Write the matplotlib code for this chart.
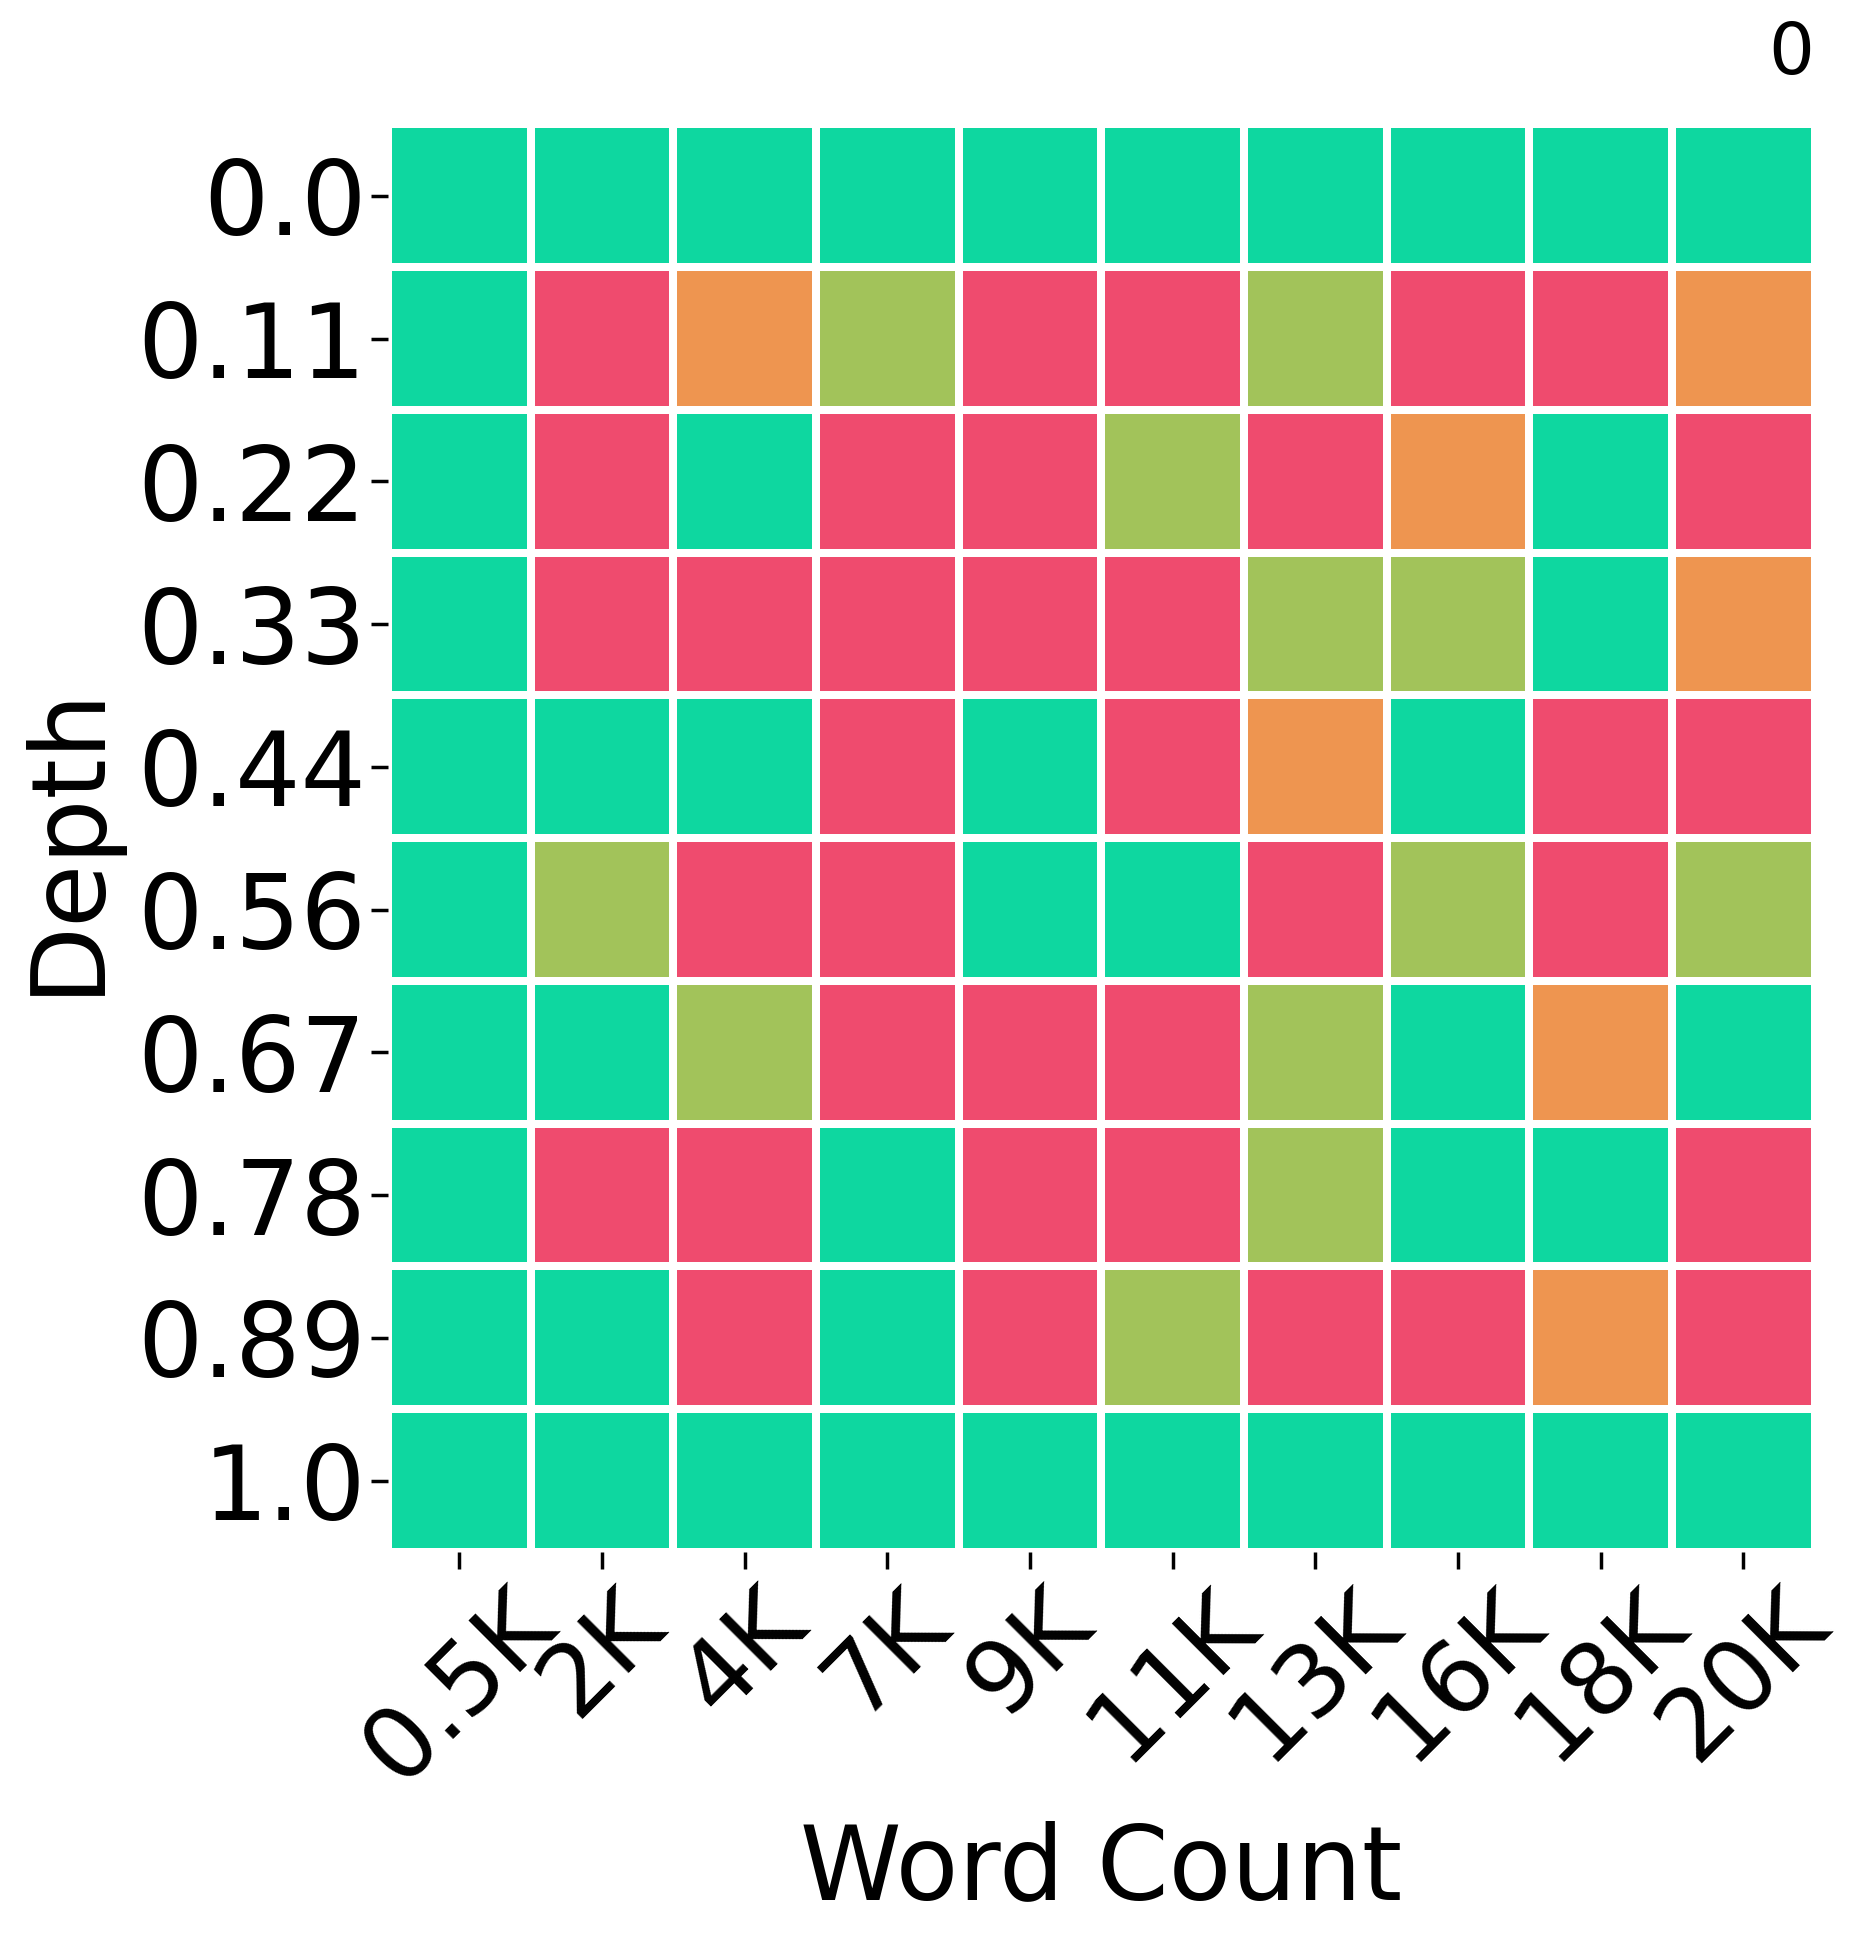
import numpy as np
import matplotlib.pyplot as plt
from matplotlib.colors import ListedColormap, BoundaryNorm

# score categories: 0 = wrong, 1 = low, 2 = partial, 3 = correct
word_counts = ['0.5K', '2K', '4K', '7K', '9K', '11K', '13K', '16K', '18K', '20K']
depths = ['0.0', '0.11', '0.22', '0.33', '0.44', '0.56', '0.67', '0.78', '0.89', '1.0']

row_00 = [3, 3, 3, 3, 3, 3, 3, 3, 3, 3]
row_11 = [3, 0, 1, 2, 0, 0, 2, 0, 0, 1]
row_22 = [3, 0, 3, 0, 0, 2, 0, 1, 3, 0]
row_33 = [3, 0, 0, 0, 0, 0, 2, 2, 3, 1]
row_44 = [3, 3, 3, 0, 3, 0, 1, 3, 0, 0]
row_56 = [3, 2, 0, 0, 3, 3, 0, 2, 0, 2]
row_67 = [3, 3, 2, 0, 0, 0, 2, 3, 1, 3]
row_78 = [3, 0, 0, 3, 0, 0, 2, 3, 3, 0]
row_89 = [3, 3, 0, 3, 0, 2, 0, 0, 1, 0]
row_10 = [3, 3, 3, 3, 3, 3, 3, 3, 3, 3]

scores = np.array([row_00, row_11, row_22, row_33, row_44,
                   row_56, row_67, row_78, row_89, row_10])

cmap = ListedColormap(['#ef4b6e', '#ee9550', '#a2c35a', '#0ed7a0'])
norm = BoundaryNorm([-0.5, 0.5, 1.5, 2.5, 3.5], cmap.N)

fig = plt.figure(figsize=(18.7, 19.44), dpi=100)
ax = fig.add_axes([0.2075, 0.2017, 0.763, 0.7343])

ax.pcolormesh(scores, cmap=cmap, norm=norm, edgecolors='white', linewidth=5.5)
ax.set_xlim(0, len(word_counts))
ax.set_ylim(len(depths), 0)

ax.set_xticks(np.arange(len(word_counts)) + 0.5)
ax.set_xticklabels(word_counts, rotation=45, ha='center', fontsize=72)
ax.set_yticks(np.arange(len(depths)) + 0.5)
ax.set_yticklabels(depths, fontsize=74)
ax.tick_params(length=12, width=2.5)

for s in ax.spines.values():
    s.set_visible(False)

ax.set_xlabel('Word Count', fontsize=74, labelpad=14)
ax.set_ylabel('Depth', fontsize=74, labelpad=14)

fig.text(0.958, 0.972, '0', fontsize=52, ha='center', va='center')

fig.savefig('out.png', dpi=100)
